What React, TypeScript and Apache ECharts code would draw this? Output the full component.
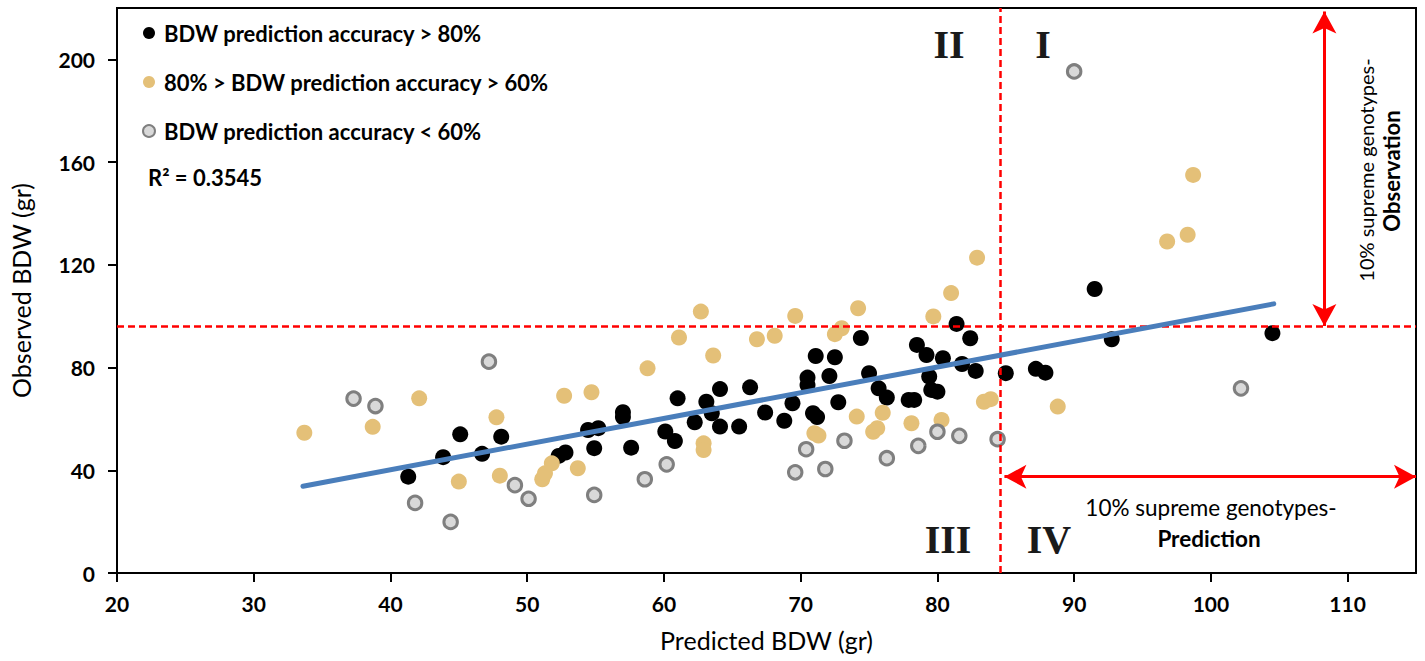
import React, { useEffect, useRef } from "react";
import * as echarts from "echarts";

const FONT = 'Lato, "Noto Sans", sans-serif';
const SERIF = '"Liberation Serif", "DejaVu Serif", serif';

const seriesNames = [
  "BDW prediction accuracy > 80%",
  "80% > BDW prediction accuracy > 60%",
  "BDW prediction accuracy < 60%",
];

// [Predicted BDW, Observed BDW]
const highAccuracy: number[][] = [
  [41.3, 37.5], [43.85, 45.1], [45.1, 54], [46.7, 46.4], [48.1, 53.1],
  [52.3, 45.6], [52.8, 46.9], [54.45, 55.7], [55.2, 56.4], [54.9, 48.6],
  [57.0, 62.6], [57.0, 60.7], [57.6, 48.8], [60.1, 55.1], [60.8, 51.4],
  [61.0, 68], [62.25, 58.7], [63.1, 66.7], [63.5, 62.2], [64.1, 71.6],
  [64.1, 57], [65.5, 57], [66.3, 72.3], [67.4, 62.5], [68.8, 59.3],
  [69.4, 66.1], [70.5, 76.1], [70.5, 73.2], [70.9, 62.2], [71.2, 60.7],
  [71.1, 84.5], [72.5, 84.0], [72.1, 76.7], [72.75, 66.5], [74.4, 91.5],
  [75.0, 77.8], [75.7, 71.9], [76.3, 68.3], [77.9, 67.4], [78.3, 67.4],
  [78.5, 88.8], [79.2, 84.9], [79.4, 76.5], [79.55, 71.3], [80.0, 70.6],
  [80.4, 83.6], [81.4, 97], [81.8, 81.4], [82.4, 91.4], [82.8, 78.7],
  [85.0, 77.8], [87.2, 79.5], [87.9, 78.0], [91.5, 110.6], [92.75, 91.0],
  [104.5, 93.4],
];

const midAccuracy: number[][] = [
  [33.7, 54.6], [38.7, 56.9], [42.1, 68], [45.0, 35.6], [47.75, 60.6],
  [48.0, 37.9], [51.1, 36.5], [51.3, 38.8], [51.8, 42.7], [52.7, 69],
  [53.7, 40.8], [54.7, 70.4], [58.8, 79.7], [61.1, 91.7], [62.7, 101.8],
  [62.9, 50.5], [62.9, 47.9], [63.6, 84.7], [66.8, 91.0], [68.1, 92.4],
  [69.6, 100.1], [71.0, 54.4], [71.3, 53.5], [72.5, 93.0], [73.0, 95.3],
  [74.1, 60.9], [74.2, 103.1], [75.3, 55.0], [75.6, 56.4], [76.0, 62.4],
  [78.1, 58.3], [79.7, 99.9], [80.3, 59.6], [81.0, 109], [82.9, 122.8],
  [83.4, 66.7], [83.9, 67.7], [88.8, 64.8], [96.8, 129.1], [98.3, 131.7],
  [98.7, 155],
];

const lowAccuracy: number[][] = [
  [37.3, 67.9], [38.9, 65], [41.8, 27.3], [44.4, 19.9], [47.2, 82.3],
  [49.1, 34.2], [50.1, 28.9], [54.9, 30.4], [58.6, 36.5], [60.2, 42.3],
  [69.6, 39.2], [70.4, 48.2], [71.8, 40.5], [73.2, 51.5], [76.3, 44.7],
  [78.6, 49.5], [80.0, 55.0], [81.6, 53.4], [84.4, 52.1], [90.0, 195.3],
  [102.2, 71.9],
];

const trendLine: number[][] = [
  [33.6, 33.8],
  [104.6, 104.8],
];

const rSquared = "R² = 0.3545";
const predictionCut = 84.6; // vertical threshold (x)
const observationCut = 96.2; // horizontal threshold (y)

export default function App() {
  const ref = useRef<HTMLDivElement>(null);

  useEffect(() => {
    if (!ref.current) return;
    const chart = echarts.init(ref.current, undefined, { renderer: "svg" });

    const red = "#FF0000";
    const arrowSize = [18, 22];
    const option: any = {
      animation: false,
      backgroundColor: "#ffffff",
      grid: {
        left: 117,
        right: 9,
        top: 8,
        bottom: 88,
        show: true,
        borderColor: "#000",
        borderWidth: 2,
        backgroundColor: "transparent",
      },
      legend: {
        orient: "vertical",
        left: 137,
        top: 17,
        icon: "circle",
        itemWidth: 12,
        itemHeight: 12,
        itemGap: 27,
        textStyle: {
          fontFamily: FONT,
          fontSize: 22,
          fontWeight: "bold",
          color: "#000",
          lineHeight: 22,
          padding: [0, 0, 0, 4],
        },
        data: [
          { name: seriesNames[0] },
          { name: seriesNames[1] },
          { name: seriesNames[2], itemStyle: { borderWidth: 2 } },
        ],
        selectedMode: false,
      },
      xAxis: {
        type: "value",
        min: 20,
        max: 115,
        interval: 10,
        name: "Predicted BDW (gr)",
        nameLocation: "middle",
        nameGap: 54,
        nameTextStyle: { fontFamily: FONT, fontSize: 25, color: "#000" },
        axisLine: { show: true, lineStyle: { color: "#000", width: 2 } },
        axisTick: { show: true, length: 9, lineStyle: { color: "#000", width: 2 } },
        axisLabel: {
          showMaxLabel: false,
          margin: 20,
          fontFamily: FONT,
          fontSize: 21,
          fontWeight: "bold",
          color: "#000",
        },
        splitLine: { show: false },
      },
      yAxis: {
        type: "value",
        min: 0,
        max: 220,
        interval: 40,
        name: "Observed BDW (gr)",
        nameLocation: "middle",
        nameGap: 84,
        nameTextStyle: { fontFamily: FONT, fontSize: 25, color: "#000" },
        axisLine: { show: true, lineStyle: { color: "#000", width: 2 } },
        axisTick: { show: true, length: 9, lineStyle: { color: "#000", width: 2 } },
        axisLabel: {
          showMaxLabel: false,
          margin: 22,
          fontFamily: FONT,
          fontSize: 21,
          fontWeight: "bold",
          color: "#000",
        },
        splitLine: { show: false },
      },
      series: [
        {
          name: seriesNames[0],
          type: "scatter",
          symbol: "circle",
          symbolSize: 16,
          itemStyle: { color: "#000000", opacity: 1 },
          data: highAccuracy,
          z: 3,
        },
        {
          name: seriesNames[1],
          type: "scatter",
          symbol: "circle",
          symbolSize: 16,
          itemStyle: { color: "#E4C078", opacity: 1 },
          data: midAccuracy,
          z: 3,
        },
        {
          name: seriesNames[2],
          type: "scatter",
          symbol: "circle",
          symbolSize: 13.5,
          itemStyle: { color: "#D9D9D9", borderColor: "#7F7F7F", borderWidth: 3, opacity: 1 },
          data: lowAccuracy,
          z: 3,
        },
        {
          name: "trend",
          type: "line",
          data: trendLine,
          symbol: "none",
          lineStyle: { color: "#4A7EBB", width: 5, cap: "round" },
          z: 5,
          silent: true,
          markLine: {
            silent: true,
            symbol: ["none", "none"],
            label: { show: false },
            lineStyle: { color: red, width: 2.5, type: [7, 4] },
            data: [
              { xAxis: predictionCut },
              { yAxis: observationCut },
              [
                {
                  coord: [108.3, 218.6],
                  symbol: "arrow",
                  symbolSize: arrowSize,
                  lineStyle: { type: "solid", width: 3, color: red },
                },
                { coord: [108.3, 96.2], symbol: "arrow", symbolSize: arrowSize },
              ],
              [
                {
                  coord: [84.9, 37.5],
                  symbol: "arrow",
                  symbolSize: arrowSize,
                  lineStyle: { type: "solid", width: 3, color: red },
                },
                { coord: [115, 37.5], symbol: "arrow", symbolSize: arrowSize },
              ],
            ],
          },
        },
      ],
      graphic: [
        {
          type: "text",
          x: 148,
          y: 177,
          style: {
            text: rSquared,
            fontFamily: FONT,
            fontSize: 22,
            fontWeight: "bold",
            fill: "#000",
            verticalAlign: "middle",
          },
        },
        { type: "text", x: 949, y: 44, style: { text: "II", fontFamily: SERIF, fontSize: 40, fontWeight: "bold", fill: "#1a1a1a", align: "center", verticalAlign: "middle" } },
        { type: "text", x: 1043, y: 44, style: { text: "I", fontFamily: SERIF, fontSize: 40, fontWeight: "bold", fill: "#1a1a1a", align: "center", verticalAlign: "middle" } },
        { type: "text", x: 948, y: 539, style: { text: "III", fontFamily: SERIF, fontSize: 40, fontWeight: "bold", fill: "#1a1a1a", align: "center", verticalAlign: "middle" } },
        { type: "text", x: 1049, y: 539, style: { text: "IV", fontFamily: SERIF, fontSize: 40, fontWeight: "bold", fill: "#1a1a1a", align: "center", verticalAlign: "middle" } },
        {
          type: "text",
          x: 1211,
          y: 507,
          style: { text: "10% supreme genotypes-", fontFamily: FONT, fontSize: 22.5, fill: "#000", align: "center", verticalAlign: "middle" },
        },
        {
          type: "text",
          x: 1209,
          y: 538,
          style: { text: "Prediction", fontFamily: FONT, fontSize: 22.5, fontWeight: "bold", fill: "#000", align: "center", verticalAlign: "middle" },
        },
        {
          type: "text",
          x: 1366,
          y: 170,
          rotation: Math.PI / 2,
          style: { text: "10% supreme genotypes-", fontFamily: FONT, fontSize: 20, fill: "#000", align: "center", verticalAlign: "middle" },
        },
        {
          type: "text",
          x: 1391,
          y: 171,
          rotation: Math.PI / 2,
          style: { text: "Observation", fontFamily: FONT, fontSize: 22, fontWeight: "bold", fill: "#000", align: "center", verticalAlign: "middle" },
        },
      ],
    };

    chart.setOption(option);
    return () => chart.dispose();
  }, []);

  return (
    <div
      ref={ref}
      style={{ position: "fixed", left: 0, top: 0, width: 1425, height: 661, background: "#fff" }}
    />
  );
}
